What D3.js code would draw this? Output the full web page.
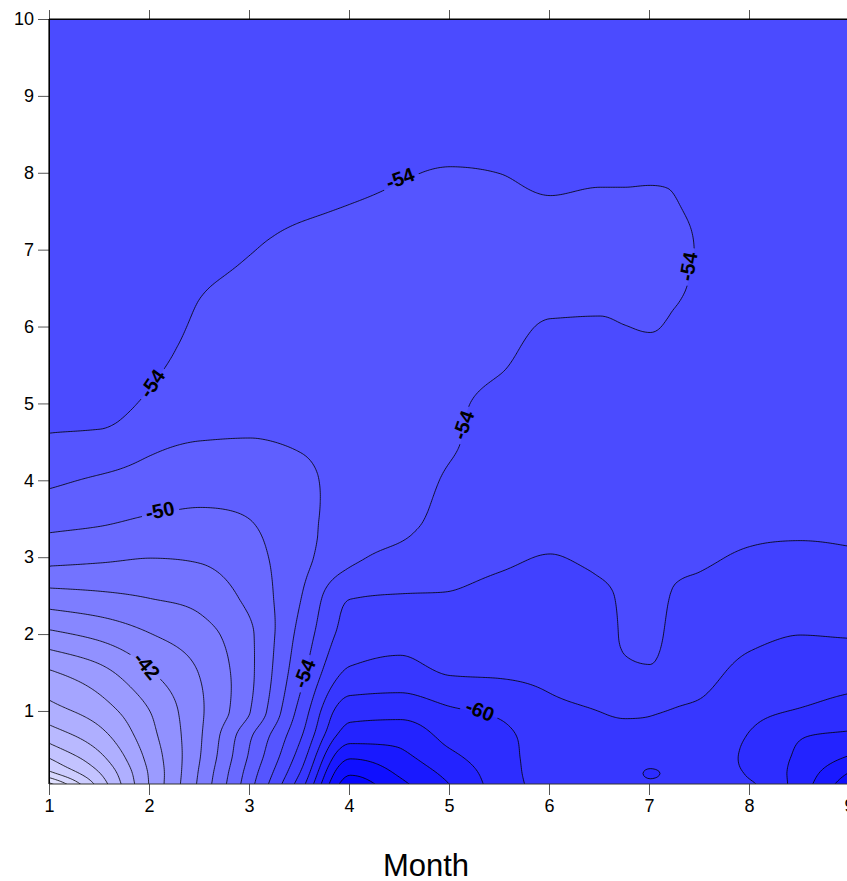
<!DOCTYPE html>
<html>
<head>
<meta charset="utf-8">
<script src="https://cdn.jsdelivr.net/npm/d3@7"></script>
<style>
  body { margin: 0; background: #fff; }
  svg { display: block; }
  text { font-family: "Liberation Sans", Arial, Helvetica, sans-serif; }
</style>
</head>
<body>
<svg id="chart" width="847" height="881"></svg>
<script>
// Sampling positions of the gridded field
const months = [1, 1.5, 2, 2.5, 3, 3.5, 4, 4.5, 5, 5.5, 6, 6.5, 6.75, 7, 7.25, 7.5, 8, 8.5, 9];
const depths = [0.05, 0.2, 0.4, 0.7, 1, 1.5, 2, 2.5, 3, 3.5, 4, 4.5, 5, 5.5, 6, 6.5, 7, 7.5, 8, 8.5, 9, 10];

// Field values, one array per month column, ordered like `depths`
const zMonth1_00 = [-23.3, -27.5, -30.1, -33.0, -35.2, -37.7, -41.5, -45.2, -48.6, -50.6, -52.3, -53.75, -54.5, -54.8, -55.0, -55.0, -55.0, -55.0, -55.0, -55.0, -55.0, -55.0];
const zMonth1_50 = [-30.8, -32.0, -33.5, -35.4, -37.0, -39.3, -42.5, -45.6, -48.3, -50.3, -51.7, -53.5, -54.6, -54.8, -55.0, -55.0, -55.0, -55.0, -55.0, -55.0, -55.0, -55.0];
const zMonth2_00 = [-38.2, -38.3, -38.7, -39.4, -40.0, -41.8, -43.9, -46.1, -48.0, -49.8, -51.2, -52.4, -53.7, -54.3, -54.8, -55.0, -55.0, -55.0, -55.0, -55.0, -55.0, -55.0];
const zMonth2_50 = [-44.5, -44.3, -44.0, -43.8, -43.7, -44.1, -45.2, -46.7, -48.2, -49.6, -50.8, -51.95, -52.8, -53.3, -53.7, -54.1, -54.6, -54.9, -55.0, -55.0, -55.0, -55.0];
const zMonth3_00 = [-51.4, -51.0, -50.4, -49.7, -48.0, -47.6, -47.7, -48.6, -49.3, -50.0, -50.8, -51.9, -52.5, -52.9, -53.2, -53.6, -54.05, -54.5, -54.9, -55.0, -55.0, -55.0];
const zMonth3_50 = [-59.1, -58.1, -57.0, -55.7, -54.7, -53.4, -52.6, -51.9, -51.4, -51.3, -51.6, -52.15, -52.8, -52.9, -53.1, -53.3, -53.6, -54.15, -54.7, -55.0, -55.0, -55.0];
const zMonth4_00 = [-69.0, -67.8, -65.9, -63.0, -61.3, -58.4, -56.8, -55.9, -53.6, -53.0, -52.6, -52.5, -52.6, -52.8, -53.0, -53.2, -53.5, -53.9, -54.4, -54.8, -55.0, -55.0];
const zMonth4_50 = [-66.5, -65.7, -64.6, -63.2, -61.4, -58.8, -57.3, -56.1, -54.6, -53.3, -52.9, -52.8, -52.8, -52.9, -53.0, -53.2, -53.4, -53.7, -54.1, -54.6, -54.9, -55.0];
const zMonth5_00 = [-64.0, -63.4, -62.5, -61.3, -60.3, -57.9, -56.8, -56.1, -55.4, -54.9, -54.3, -53.8, -53.7, -53.5, -53.4, -53.4, -53.4, -53.5, -53.9, -54.5, -54.9, -55.0];
const zMonth5_50 = [-61.1, -61.0, -60.8, -60.5, -59.7, -57.8, -57.0, -56.4, -55.8, -55.4, -55.0, -54.7, -54.4, -53.9, -53.6, -53.4, -53.4, -53.6, -54.0, -54.6, -55.0, -55.0];
const zMonth6_00 = [-59.3, -59.2, -59.1, -58.9, -58.4, -57.6, -57.0, -56.5, -56.05, -55.6, -55.3, -55.0, -54.8, -54.5, -54.1, -53.7, -53.6, -53.8, -54.3, -54.7, -55.0, -55.0];
const zMonth6_50 = [-59.0, -59.1, -58.9, -58.5, -58.0, -57.3, -56.8, -56.3, -55.7, -55.3, -55.1, -54.9, -54.7, -54.5, -54.1, -53.8, -53.6, -53.7, -54.2, -54.7, -55.0, -55.0];
const zMonth6_75 = [-59.2, -59.3, -59.0, -58.45, -57.8, -56.5, -55.7, -55.7, -55.4, -55.2, -55.0, -54.9, -54.7, -54.5, -54.02, -53.8, -53.6, -53.7, -54.2, -54.7, -55.0, -55.0];
const zMonth7_00 = [-59.7, -60.15, -59.3, -58.35, -57.9, -56.3, -55.3, -55.1, -55.0, -55.0, -54.9, -54.8, -54.7, -54.5, -53.95, -53.8, -53.5, -53.6, -54.2, -54.7, -55.0, -55.0];
const zMonth7_25 = [-59.5, -59.6, -59.3, -58.7, -58.1, -57.3, -56.7, -56.2, -55.6, -55.2, -55.0, -54.9, -54.8, -54.6, -54.2, -53.85, -53.7, -53.9, -54.2, -54.8, -55.0, -55.0];
const zMonth7_50 = [-59.3, -59.35, -59.2, -58.9, -58.3, -57.5, -56.9, -56.4, -55.8, -55.4, -55.2, -55.1, -55.0, -54.9, -54.8, -54.3, -54.1, -54.2, -54.6, -54.9, -55.0, -55.0];
const zMonth8_00 = [-59.8, -60.2, -60.4, -60.1, -59.5, -58.6, -57.6, -56.9, -56.2, -55.6, -55.3, -55.1, -55.0, -55.0, -55.0, -54.9, -54.8, -54.8, -54.9, -55.0, -55.0, -55.0];
const zMonth8_50 = [-63.0, -62.8, -62.4, -61.8, -60.2, -59.1, -58.0, -57.3, -56.4, -55.6, -55.3, -55.0, -55.0, -55.0, -55.0, -55.0, -55.0, -55.0, -55.0, -55.0, -55.0, -55.0];
const zMonth9_00 = [-67.5, -66.2, -64.3, -62.3, -60.9, -59.2, -57.9, -56.9, -56.2, -55.6, -55.3, -55.0, -55.0, -55.0, -55.0, -55.0, -55.0, -55.0, -55.0, -55.0, -55.0, -55.0];

const columns = [zMonth1_00, zMonth1_50, zMonth2_00, zMonth2_50, zMonth3_00, zMonth3_50, zMonth4_00, zMonth4_50,
  zMonth5_00, zMonth5_50, zMonth6_00, zMonth6_50, zMonth6_75, zMonth7_00, zMonth7_25, zMonth7_50,
  zMonth8_00, zMonth8_50, zMonth9_00];

// Axis ticks and contour levels
const monthTicks = [1, 2, 3, 4, 5, 6, 7, 8, 9];
const depthTicks = [1, 2, 3, 4, 5, 6, 7, 8, 9, 10];
const levels = d3.range(-70, -19, 2);

// Inline contour labels: level, position (month, depth), text angle
const labelLevels = [-54, -54, -54, -54, -50, -42, -54, -60];
const labelMonths = [4.51, 7.39, 2.03, 5.14, 2.11, 1.98, 3.55, 5.31];
const labelDepths = [7.93, 6.78, 5.26, 4.72, 3.61, 1.59, 1.49, 1.01];
const labelAngles = [-20, -80, -55, -70, -12, 50, -68, 22];

const svg = d3.select("#chart");
const W = 847, H = 881;
const plotL = 49, plotR = 849, plotT = 19, plotB = 784;

const x = d3.scaleLinear().domain([1, 9]).range([plotL, plotR]);
const y = d3.scaleLinear().domain([0.05, 10]).range([plotB, plotT]);

// Monotone (Steffen) cubic interpolation through irregular knots
function monotoneInterp(ts, vs) {
  const n = ts.length, h = [], s = [], m = new Array(n);
  for (let i = 0; i < n - 1; i++) { h[i] = ts[i + 1] - ts[i]; s[i] = (vs[i + 1] - vs[i]) / h[i]; }
  m[0] = s[0]; m[n - 1] = s[n - 2];
  for (let i = 1; i < n - 1; i++) {
    const p = (s[i - 1] * h[i] + s[i] * h[i - 1]) / (h[i - 1] + h[i]);
    m[i] = (Math.sign(s[i - 1]) + Math.sign(s[i])) *
      Math.min(Math.abs(s[i - 1]), Math.abs(s[i]), 0.5 * Math.abs(p));
  }
  return t => {
    let i = d3.bisectRight(ts, t) - 1;
    i = Math.max(0, Math.min(n - 2, i));
    const u = (t - ts[i]) / h[i], u2 = u * u, u3 = u2 * u;
    return (2 * u3 - 3 * u2 + 1) * vs[i] + (u3 - 2 * u2 + u) * h[i] * m[i] +
      (-2 * u3 + 3 * u2) * vs[i + 1] + (u3 - u2) * h[i] * m[i + 1];
  };
}

// Resample the field onto a fine regular grid (row 0 = top of the plot)
const nx = 321, ny = 399;
const xStep = (9 - 1) / (nx - 1), yStep = (10 - 0.05) / (ny - 1);
const colInterp = columns.map(c => monotoneInterp(depths, c));
const values = new Float64Array(nx * ny);
for (let r = 0; r < ny; r++) {
  const dv = 10 - r * yStep;
  const rowF = monotoneInterp(months, colInterp.map(f => f(dv)));
  for (let c = 0; c < nx; c++) values[r * nx + c] = rowF(1 + c * xStep);
}

const contours = d3.contours().size([nx, ny]).thresholds(levels)(values);

const toScreen = d3.geoTransform({
  point(cx, cy) { this.stream.point(x(1 + cx * xStep), y(10 - cy * yStep)); }
});
const path = d3.geoPath(toScreen);

const color = v => d3.interpolateRgb("#0000ff", "#ffffff")((v + 70) / 51);

const defs = svg.append("defs");
defs.append("clipPath").attr("id", "plotClip")
  .append("rect").attr("x", plotL).attr("y", plotT)
  .attr("width", plotR - plotL).attr("height", plotB - plotT);

// Gaps in the contour lines behind the labels
const mask = defs.append("mask").attr("id", "labelGaps")
  .attr("maskUnits", "userSpaceOnUse").attr("x", 0).attr("y", 0).attr("width", W).attr("height", H);
mask.append("rect").attr("width", W).attr("height", H).attr("fill", "#fff");
labelLevels.forEach((lv, i) => {
  mask.append("rect")
    .attr("x", -19).attr("y", -9).attr("width", 38).attr("height", 18)
    .attr("fill", "#000")
    .attr("transform", `translate(${x(labelMonths[i])},${y(labelDepths[i])}) rotate(${labelAngles[i]})`);
});

const plot = svg.append("g").attr("clip-path", "url(#plotClip)");

plot.append("g").selectAll("path")
  .data(contours)
  .join("path")
  .attr("d", path)
  .attr("fill", d => color(d.value + 1))
  .attr("stroke", "none");

plot.append("g").attr("mask", "url(#labelGaps)")
  .selectAll("path")
  .data(contours.slice(1))
  .join("path")
  .attr("d", path)
  .attr("fill", "none")
  .attr("stroke", "#000")
  .attr("stroke-width", 0.8);

// Contour labels
svg.append("g").selectAll("text")
  .data(labelLevels)
  .join("text")
  .attr("transform", (d, i) => `translate(${x(labelMonths[i])},${y(labelDepths[i])}) rotate(${labelAngles[i]})`)
  .attr("text-anchor", "middle")
  .attr("dy", "0.36em")
  .attr("font-size", 20)
  .attr("font-weight", "bold")
  .attr("fill", "#000")
  .text(d => d);

// Axes
const tickColor = "#555";
function styleAxis(g) {
  g.selectAll(".domain").remove();
  g.selectAll(".tick line").attr("stroke", tickColor);
  g.selectAll(".tick text").attr("font-size", 18).attr("fill", "#000")
    .attr("font-family", "'Liberation Sans', Arial, sans-serif");
}

svg.append("g").attr("transform", `translate(${plotL},0)`)
  .call(d3.axisLeft(y).tickValues(depthTicks).tickSize(11).tickPadding(4).tickFormat(d3.format("d")))
  .call(styleAxis);

svg.append("g").attr("transform", `translate(0,${plotB})`)
  .call(d3.axisBottom(x).tickValues(monthTicks).tickSize(11).tickPadding(4).tickFormat(d3.format("d")))
  .call(styleAxis);

svg.append("g").attr("transform", `translate(0,${plotT})`)
  .call(d3.axisTop(x).tickValues(monthTicks).tickSize(9).tickFormat(""))
  .call(styleAxis);

// Frame
svg.append("line").attr("x1", plotL).attr("x2", plotL).attr("y1", plotT).attr("y2", plotB)
  .attr("stroke", "#000").attr("stroke-width", 1.2);
svg.append("line").attr("x1", plotL).attr("x2", W).attr("y1", plotT).attr("y2", plotT)
  .attr("stroke", "#000").attr("stroke-width", 1.2);
svg.append("line").attr("x1", plotL).attr("x2", W).attr("y1", plotB).attr("y2", plotB)
  .attr("stroke", "#333").attr("stroke-width", 1.2);

// Axis title
svg.append("text")
  .attr("x", 426).attr("y", 876)
  .attr("text-anchor", "middle")
  .attr("font-size", 31)
  .attr("fill", "#000")
  .text("Month");
</script>
</body>
</html>
